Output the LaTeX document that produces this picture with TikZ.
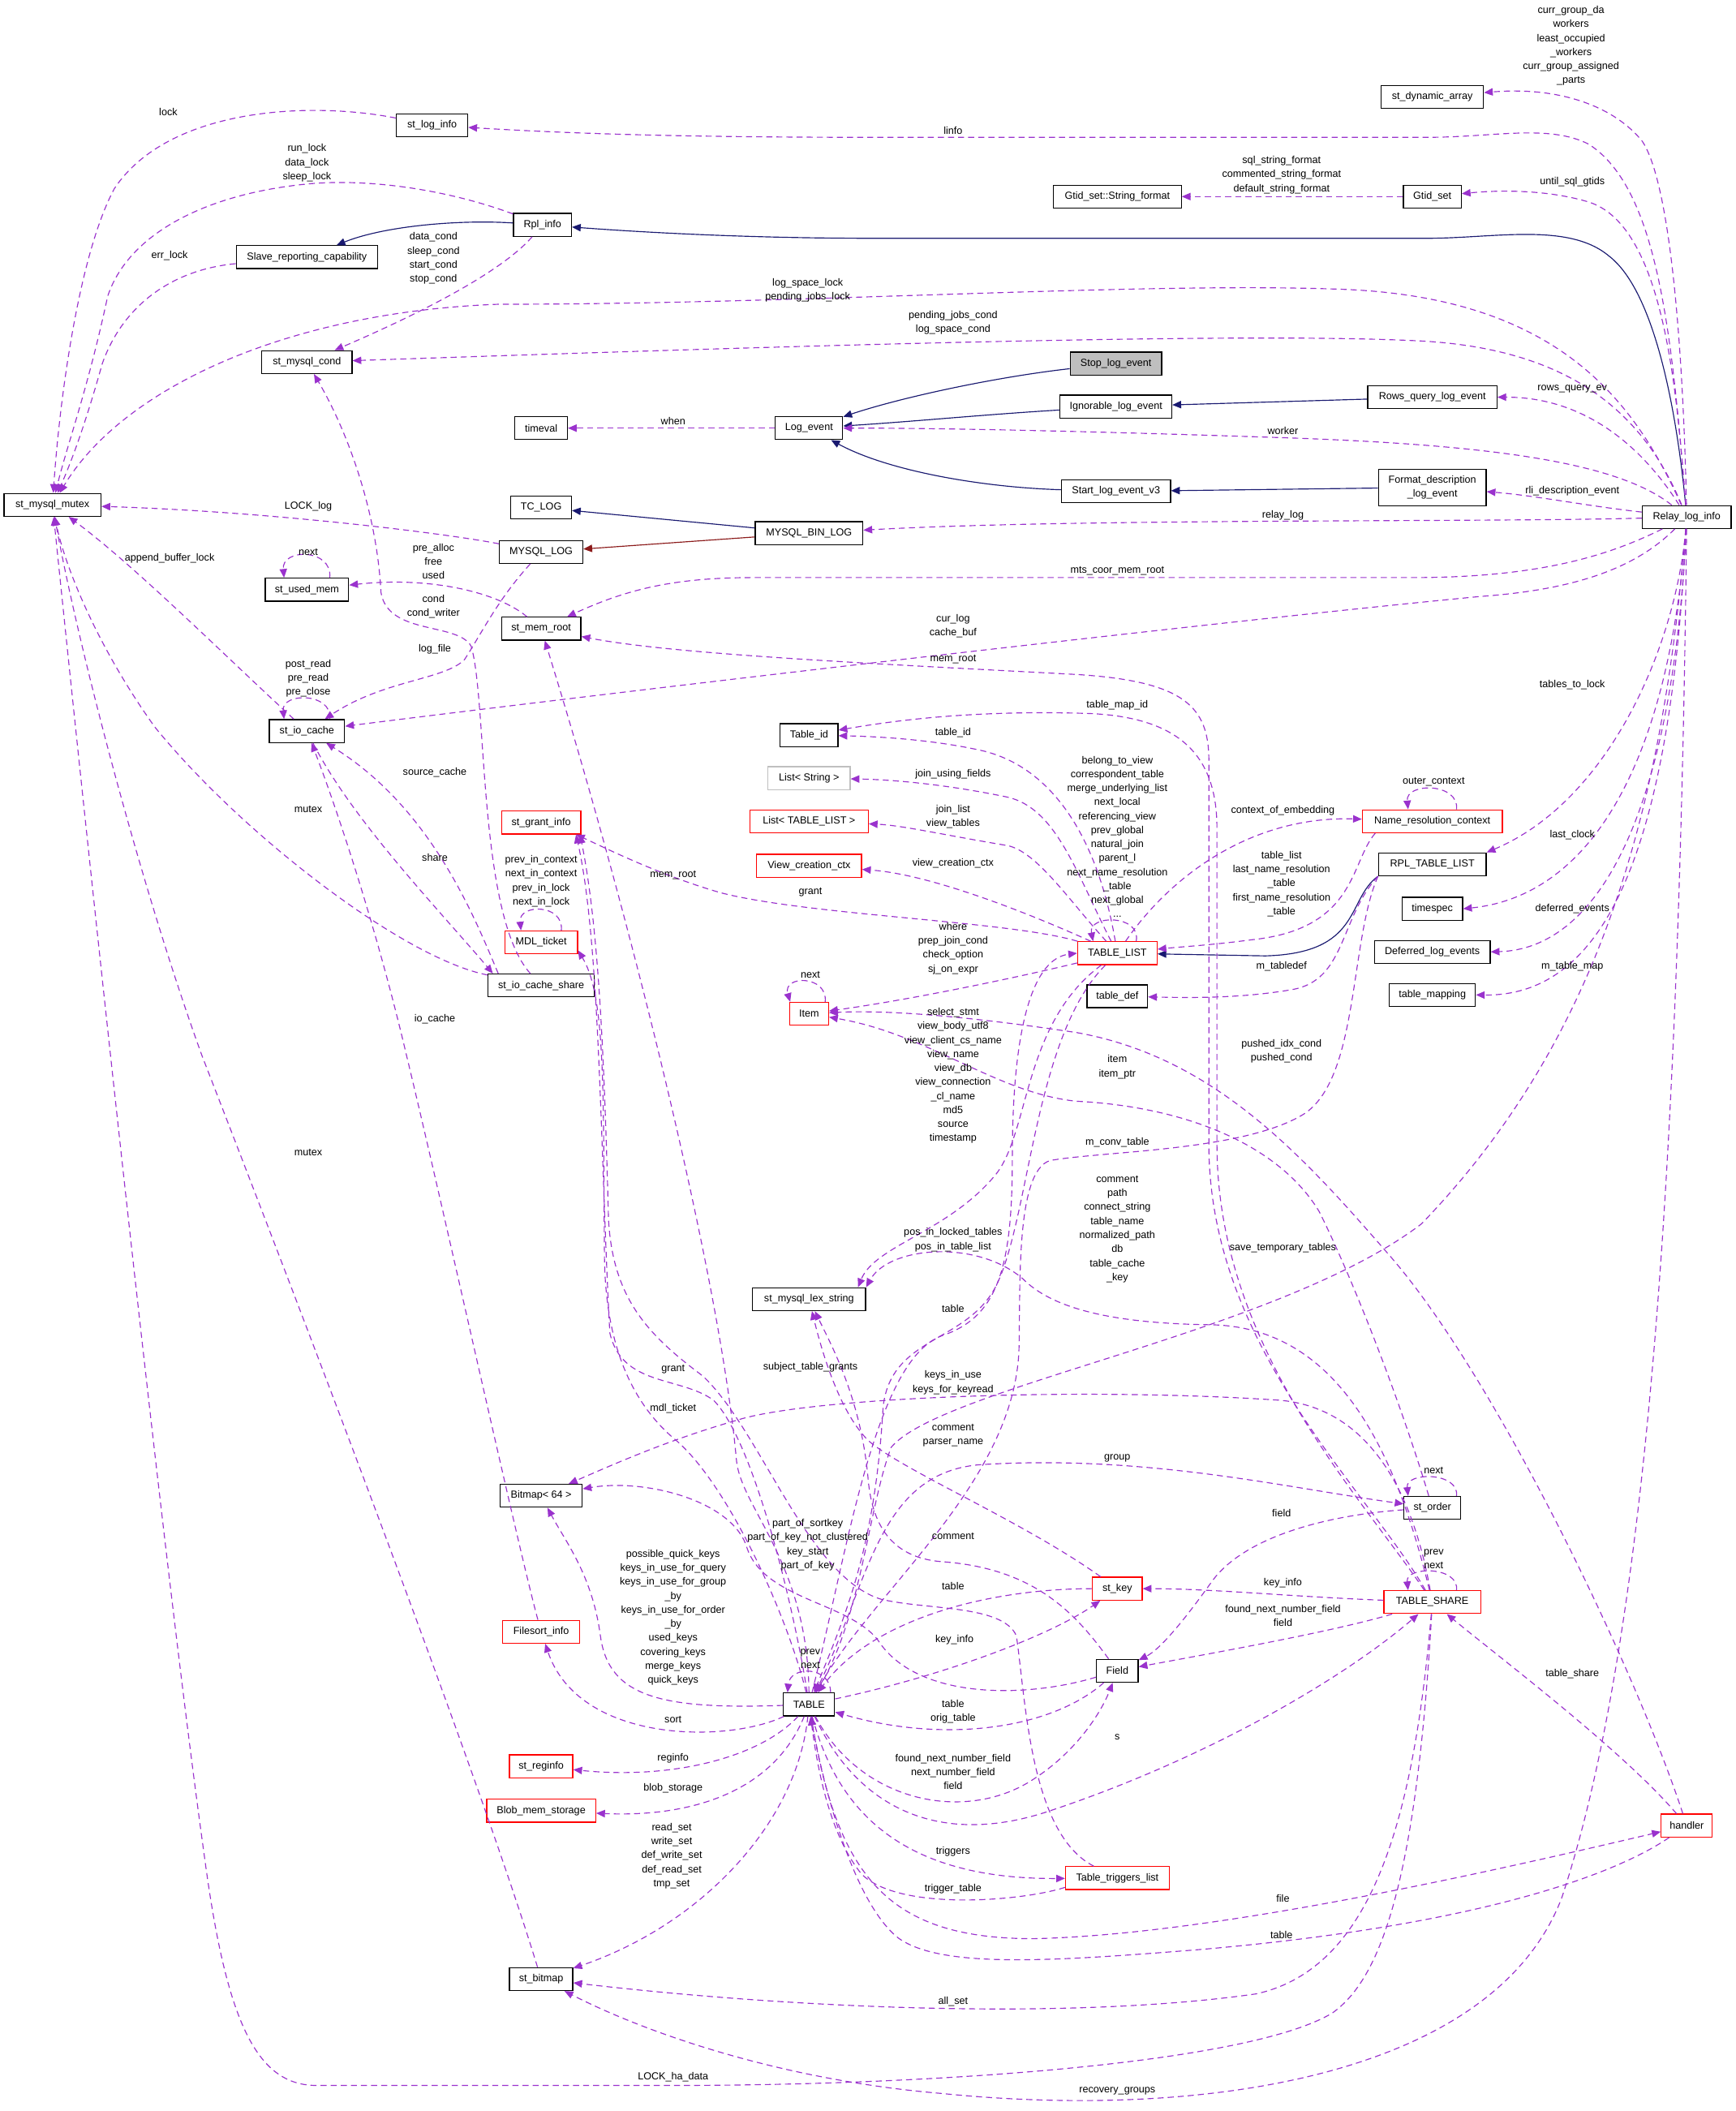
\documentclass[tikz,border=0pt]{standalone}
\usepackage{fontspec}
\setmainfont{Liberation Sans}
\usetikzlibrary{arrows.meta}
\definecolor{depPurple}{RGB}{154,50,205}
\definecolor{inhBlue}{RGB}{25,25,112}
\definecolor{privRed}{RGB}{139,26,26}
\definecolor{grey75}{RGB}{191,191,191}

\tikzset{
  cls/.style={draw=black, line width=0.75pt, fill=white, font=\fontsize{7.6}{10.4}\selectfont,
    minimum height=17pt, inner xsep=2pt, inner ysep=1pt, align=center},
  clsred/.style={cls, draw=red},
  clsgrey/.style={cls, draw=grey75},
  dep/.style={depPurple, line width=0.7pt, dash pattern=on 4.5pt off 3pt,
    -{Triangle[length=6.5pt,width=5.5pt]}},
  inh/.style={inhBlue, line width=0.7pt, -{Triangle[length=6.5pt,width=5.5pt]}},
  priv/.style={privRed, line width=0.7pt, -{Triangle[length=6.5pt,width=5.5pt]}},
  lbl/.style={font=\fontsize{7.6}{10.4}\selectfont, align=center, inner sep=0pt}
}

\begin{document}
\begin{tikzpicture}[x=1pt, y=-1pt]
  \useasboundingbox (0,0) rectangle (1289,1568);

  % classes
  \node[cls, minimum width=72pt] (mutex) at (39,375) {st\_mysql\_mutex};
  \node[cls, minimum width=53pt] (loginfo) at (321,93) {st\_log\_info};
  \node[cls, minimum width=43pt] (rpl) at (403,167) {Rpl\_info};
  \node[cls, minimum width=105pt] (slave) at (228,191) {Slave\_reporting\_capability};
  \node[cls, minimum width=67pt] (cond) at (228,269) {st\_mysql\_cond};
  \node[cls, minimum width=39pt] (timeval) at (402,318) {timeval};
  \node[cls, minimum width=50pt] (logev) at (601,318) {Log\_event};
  \node[cls, minimum width=45pt] (tclog) at (402,377) {TC\_LOG};
  \node[cls, minimum width=80pt] (binlog) at (601,396) {MYSQL\_BIN\_LOG};
  \node[cls, minimum width=62pt] (mlog) at (402,410) {MYSQL\_LOG};
  \node[cls, minimum width=62pt] (usedmem) at (228,438) {st\_used\_mem};
  \node[cls, minimum width=59pt] (memroot) at (402,467) {st\_mem\_root};
  \node[cls, minimum width=56pt] (iocache) at (228,543) {st\_io\_cache};
  \node[cls, minimum width=43pt] (tableid) at (601,546) {Table\_id};
  \node[clsgrey, minimum width=61pt] (liststr) at (601,578) {List< String >};
  \node[clsred, minimum width=59pt] (grantinfo) at (402,611) {st\_grant\_info};
  \node[clsred, minimum width=88pt] (listtl) at (601,610) {List< TABLE\_LIST >};
  \node[clsred, minimum width=78pt] (viewctx) at (601,643) {View\_creation\_ctx};
  \node[clsred, minimum width=54pt] (mdl) at (402,700) {MDL\_ticket};
  \node[cls, minimum width=79pt] (iocs) at (402,732) {st\_io\_cache\_share};
  \node[clsred, minimum width=29pt] (item) at (601,753) {Item};
  \node[clsred, minimum width=59pt] (tl) at (830,708) {TABLE\_LIST};
  \node[clsred, minimum width=104pt] (nrc) at (1064,610) {Name\_resolution\_context};
  \node[cls, minimum width=80pt] (rtl) at (1064,642) {RPL\_TABLE\_LIST};
  \node[cls, minimum width=45pt] (timespec) at (1064,675) {timespec};
  \node[cls, minimum width=86pt] (defer) at (1064,707) {Deferred\_log\_events};
  \node[cls, minimum width=45pt] (tabledef) at (830,740) {table\_def};
  \node[cls, minimum width=64pt] (tmap) at (1064,739) {table\_mapping};
  \node[cls, minimum width=84pt] (lexstr) at (601,965) {st\_mysql\_lex\_string};
  \node[cls, minimum width=61pt] (bitmap) at (402,1111) {Bitmap< 64 >};
  \node[cls, minimum width=42pt] (order) at (1064,1120) {st\_order};
  \node[clsred, minimum width=37pt] (stkey) at (830,1180) {st\_key};
  \node[clsred, minimum width=72pt] (share) at (1064,1190) {TABLE\_SHARE};
  \node[clsred, minimum width=57pt] (filesort) at (402,1212) {Filesort\_info};
  \node[cls, minimum width=31pt] (field) at (830,1241) {Field};
  \node[cls, minimum width=38pt] (table) at (601,1266) {TABLE};
  \node[clsred, minimum width=47pt] (reginfo) at (402,1312) {st\_reginfo};
  \node[clsred, minimum width=81pt] (blob) at (402,1345) {Blob\_mem\_storage};
  \node[clsred, minimum width=38pt] (handler) at (1253,1356) {handler};
  \node[clsred, minimum width=77pt] (trig) at (830,1395) {Table\_triggers\_list};
  \node[cls, minimum width=47pt] (stbitmap) at (402,1470) {st\_bitmap};
  \node[cls, minimum width=76pt] (dynarr) at (1064,72) {st\_dynamic\_array};
  \node[cls, minimum width=95pt] (strfmt) at (830,146) {Gtid\_set::String\_format};
  \node[cls, minimum width=43pt] (gtid) at (1064,146) {Gtid\_set};
  \node[cls, fill=grey75, minimum width=68pt] (stop) at (829,270) {Stop\_log\_event};
  \node[cls, minimum width=83pt] (ignor) at (829,302) {Ignorable\_log\_event};
  \node[cls, minimum width=96pt] (rowsq) at (1064,295) {Rows\_query\_log\_event};
  \node[cls, minimum width=81pt] (startv3) at (829,365) {Start\_log\_event\_v3};
  \node[cls, minimum width=80pt, minimum height=27pt] (fmtdesc) at (1064,362) {Format\_description\\\_log\_event};
  \node[cls, minimum width=66pt] (relay) at (1253,384) {Relay\_log\_info};

  % inheritance
  \draw[inh] (relay) .. controls (1245,300) and (1228,215) .. (1195,190) .. controls (1165,165) and (1110,177) .. (1060,177) -- (650,177) .. controls (550,177) and (470,172) .. (rpl);
  \draw[inh] (rpl) .. controls (340,163) and (285,168) .. (slave);
  \draw[inh] (stop) .. controls (740,280) and (670,295) .. (logev);
  \draw[inh] (ignor) .. controls (730,308) and (680,313) .. (logev);
  \draw[inh] (startv3) .. controls (730,362) and (660,350) .. (logev);
  \draw[inh] (rowsq) -- (ignor);
  \draw[inh] (fmtdesc) -- (startv3);
  \draw[inh] (binlog) -- (tclog);
  \draw[priv] (binlog) -- (mlog);
  \draw[inh] (rtl.south west) .. controls (1000,668) and (1012,708) .. (940,710) -- (tl);

  % Relay_log_info members
  \draw[dep] (relay) .. controls (1250,250) and (1240,135) .. (1220,105) .. controls (1200,80) and (1160,64) .. (dynarr);
  \draw[dep] (relay) .. controls (1242,250) and (1232,140) .. (1180,107) .. controls (1150,92) and (1110,102) .. (1060,102) -- (650,102) .. controls (500,102) and (420,99) .. (loginfo);
  \draw[dep] (relay) .. controls (1246,300) and (1238,168) .. (1180,150) .. controls (1150,141) and (1115,141) .. (gtid);
  \draw[dep] (relay) .. controls (1215,300) and (1160,222) .. (1000,215) .. controls (850,209) and (600,226) .. (370,226) .. controls (210,232) and (90,290) .. (mutex);
  \draw[dep] (relay) .. controls (1222,310) and (1170,258) .. (1050,253) .. controls (900,246) and (500,260) .. (cond);
  \draw[dep] (relay) .. controls (1222,335) and (1180,295) .. (rowsq);
  \draw[dep] (relay) .. controls (1200,342) and (1100,330) .. (950,325) .. controls (800,320) and (700,318) .. (logev);
  \draw[dep] (relay) .. controls (1180,376) and (1140,368) .. (fmtdesc);
  \draw[dep] (relay) .. controls (1100,388) and (800,385) .. (binlog);
  \draw[dep] (relay) .. controls (1200,410) and (1150,429) .. (1050,429) -- (560,429) .. controls (500,429) and (465,438) .. (memroot);
  \draw[dep] (relay) .. controls (1215,422) and (1170,438) .. (1100,443) .. controls (900,462) and (450,515) .. (iocache);
  \draw[dep] (relay) .. controls (1245,480) and (1195,595) .. (rtl.north east);
  \draw[dep] (relay) .. controls (1240,560) and (1185,665) .. (timespec.east);
  \draw[dep] (relay) .. controls (1242,610) and (1185,705) .. (defer.east);
  \draw[dep] (relay) .. controls (1240,650) and (1185,740) .. (tmap.east);
  \draw[dep] (relay) .. controls (1235,600) and (1190,770) .. (1056,909) .. controls (950,990) and (700,1030) .. (662,1075) .. controls (645,1120) and (640,1200) .. (table);
  \draw[dep] (relay) .. controls (1248,800) and (1230,1200) .. (1160,1410) .. controls (1110,1540) and (900,1575) .. (700,1555) .. controls (580,1545) and (480,1510) .. (stbitmap);
  \draw[dep] (gtid) -- (strfmt);
  \draw[dep] (logev) -- (timeval);

  % locks and conditions
  \draw[dep] (loginfo) .. controls (230,75) and (125,80) .. (85,140) .. controls (58,190) and (44,300) .. (mutex);
  \draw[dep] (rpl) .. controls (330,140) and (270,132) .. (225,137) .. controls (150,145) and (95,175) .. (80,220) .. controls (65,290) and (50,330) .. (mutex);
  \draw[dep] (slave) .. controls (130,200) and (92,225) .. (76,270) .. controls (62,320) and (52,345) .. (mutex);
  \draw[dep] (rpl) .. controls (370,205) and (300,238) .. (cond);
  \draw[dep] (mlog) .. controls (330,396) and (200,380) .. (mutex);
  \draw[dep] (mlog) .. controls (370,445) and (358,470) .. (345,490) .. controls (330,505) and (285,505) .. (iocache);
  \draw[dep] (iocs) .. controls (355,680) and (362,520) .. (350,480) .. controls (340,462) and (288,472) .. (283,440) .. controls (280,380) and (258,320) .. (cond);
  \draw[dep] (memroot) .. controls (370,440) and (320,428) .. (usedmem);
  \draw[dep] ([xshift=17pt]usedmem.north) .. controls +(2,-22) and +(-2,-22) .. ([xshift=-17pt]usedmem.north);
  \draw[dep] ([xshift=17pt]iocache.north) .. controls +(2,-20) and +(-2,-20) .. ([xshift=-17pt]iocache.north);
  \draw[dep] (iocache) .. controls (170,490) and (100,420) .. (mutex);
  \draw[dep] (iocs) .. controls (300,712) and (180,620) .. (115,540) .. controls (72,480) and (48,420) .. (mutex);
  \draw[dep] ([xshift=8pt]iocs.north west) .. controls (352,680) and (320,600) .. (iocache);
  \draw[dep] (iocache) .. controls (262,610) and (330,680) .. ([xshift=4pt]iocs.north west);
  \draw[dep] (share) .. controls (1052,1400) and (1025,1470) .. (990,1495) .. controls (930,1532) and (700,1549) .. (500,1549) -- (235,1549) .. controls (190,1549) and (168,1500) .. (152,1380) .. controls (120,1150) and (62,600) .. (mutex);
  \draw[dep] (stbitmap) .. controls (350,1300) and (195,900) .. (150,784) .. controls (105,660) and (58,480) .. (mutex);
  \draw[dep] (filesort) .. controls (385,1150) and (330,900) .. (302,784) .. controls (280,690) and (250,600) .. (iocache);

  % TABLE_LIST members
  \draw[dep] (tl) .. controls (815,620) and (780,568) .. (727,557) .. controls (690,549) and (650,547) .. (tableid);
  \draw[dep] (tl) .. controls (800,650) and (785,600) .. (748,592) .. controls (700,582) and (660,579) .. (liststr);
  \draw[dep] (tl) .. controls (795,670) and (770,632) .. (748,628) .. controls (700,620) and (670,613) .. (listtl);
  \draw[dep] (tl) .. controls (790,690) and (700,650) .. (viewctx);
  \draw[dep] (tl) .. controls (750,684) and (600,680) .. (535,663) .. controls (490,650) and (450,630) .. ([xshift=-4pt]grantinfo.south east);
  \draw[dep] ([xshift=14pt]tl.north) .. controls +(4,-20) and +(-4,-20) .. ([xshift=-18pt]tl.north);
  \draw[dep] (tl) .. controls (870,650) and (930,606) .. (nrc);
  \draw[dep] ([xshift=18pt]nrc.north) .. controls +(2,-20) and +(-2,-20) .. ([xshift=-18pt]nrc.north);
  \draw[dep] ([xshift=10pt]nrc.south west) .. controls (1003,640) and (1008,690) .. (930,698) .. controls (900,702) and (880,703) .. (tl);
  \draw[dep] (rtl.south west) .. controls (995,682) and (1000,728) .. (960,735) .. controls (920,742) and (880,741) .. (tabledef);
  \draw[dep] (rtl.south west) .. controls (1002,700) and (1010,805) .. (966,829) .. controls (920,855) and (820,855) .. (780,862) .. controls (755,870) and (758,950) .. (757,1000) .. controls (755,1100) and (650,1180) .. (table);
  \draw[dep] (tl) .. controls (760,725) and (680,742) .. (item);
  \draw[dep] (tl) .. controls (760,760) and (765,840) .. (740,872) .. controls (705,915) and (650,925) .. ([xshift=-6pt]lexstr.north east);
  \draw[dep] (table) .. controls (630,1150) and (650,1010) .. (700,992) .. controls (742,978) and (752,940) .. (752,860) .. controls (752,760) and (768,712) .. (tl.west);
  \draw[dep] (tl) .. controls (768,770) and (765,905) .. (740,955) .. controls (718,998) and (662,992) .. (656,1045) .. controls (650,1150) and (628,1200) .. (table);

  % Item users
  \draw[dep] ([xshift=12pt]item.north) .. controls +(2,-20) and +(-6,-20) .. ([xshift=-14pt]item.north);
  \draw[dep] (order) .. controls (1040,1040) and (1005,950) .. (980,900) .. controls (950,850) and (880,822) .. (800,818) .. controls (740,812) and (690,768) .. (item);
  \draw[dep] (handler) .. controls (1215,1240) and (1110,1020) .. (1030,930) .. controls (965,855) and (900,785) .. (800,767) .. controls (720,755) and (660,750) .. (item);

  % TABLE_SHARE members
  \draw[dep] (share) .. controls (1015,1105) and (898,1000) .. (898,850) -- (898,565) .. controls (898,525) and (880,506) .. (800,501) .. controls (650,493) and (500,486) .. (memroot);
  \draw[dep] (share) .. controls (1010,1110) and (904,1000) .. (904,850) -- (904,615) .. controls (904,560) and (875,533) .. (810,530) .. controls (720,527) and (660,536) .. (tableid);
  \draw[dep] (share) .. controls (1048,1100) and (1012,1045) .. (950,1040) .. controls (800,1030) and (600,1038) .. (547,1055) .. controls (495,1070) and (455,1088) .. (bitmap);
  \draw[dep] (share) .. controls (1035,1070) and (990,986) .. (900,984) .. controls (820,983) and (780,970) .. (760,950) .. controls (725,920) and (660,926) .. (lexstr.north east);
  \draw[dep] ([xshift=18pt]share.north) .. controls +(2,-18) and +(-2,-18) .. ([xshift=-18pt]share.north);
  \draw[dep] (share) .. controls (960,1186) and (900,1180) .. (stkey);
  \draw[dep] (share) .. controls (990,1212) and (900,1228) .. (field);
  \draw[dep] (share) .. controls (1050,1350) and (1020,1462) .. (933,1481) .. controls (800,1500) and (600,1493) .. (stbitmap);

  % handler
  \draw[dep] (handler) .. controls (1205,1300) and (1115,1232) .. (share);
  \draw[dep] (handler) .. controls (1200,1392) and (1100,1430) .. (892,1448) .. controls (780,1457) and (700,1462) .. (668,1440) .. controls (635,1415) and (612,1330) .. (table);
  \draw[dep] (table) .. controls (622,1395) and (660,1440) .. (768,1440) .. controls (900,1437) and (1100,1392) .. (handler);

  % TABLE members
  \draw[dep] (table) .. controls (600,1160) and (550,1120) .. (547,1084) .. controls (535,950) and (468,680) .. (memroot);
  \draw[dep] (table) .. controls (590,1195) and (560,1070) .. (530,1040) .. controls (505,1022) and (462,1030) .. (453,990) .. controls (446,860) and (446,700) .. ([xshift=-4pt]grantinfo.south east);
  \draw[dep] (table) .. controls (585,1200) and (540,1100) .. (500,1068) .. controls (462,1035) and (449,985) .. (449,930) .. controls (448,810) and (450,740) .. ([yshift=3pt]mdl.south east);
  \draw[dep] ([xshift=15pt]mdl.north) .. controls +(2,-20) and +(-2,-20) .. ([xshift=-15pt]mdl.north);
  \draw[dep] (trig) .. controls (765,1362) and (762,1262) .. (755,1215) .. controls (745,1192) and (690,1196) .. (655,1188) .. controls (600,1172) and (565,1062) .. (522,1022) .. controls (482,992) and (455,965) .. (452,905) .. controls (449,790) and (445,690) .. ([xshift=-1pt]grantinfo.south east);
  \draw[dep] (table) .. controls (540,1295) and (430,1295) .. (filesort);
  \draw[dep] (table) .. controls (490,1270) and (452,1260) .. (446,1215) .. controls (440,1170) and (420,1145) .. (bitmap);
  \draw[dep] (table) .. controls (565,1305) and (500,1322) .. (reginfo);
  \draw[dep] (table) .. controls (575,1330) and (515,1350) .. (blob);
  \draw[dep] (table) .. controls (592,1355) and (520,1430) .. (stbitmap);
  \draw[dep] ([xshift=16pt]table.north) .. controls +(0,-20) and +(2,-20) .. ([xshift=-16pt]table.north);
  \draw[dep] (table) .. controls (645,1180) and (650,1095) .. (727,1088) .. controls (850,1080) and (955,1105) .. (order);
  \draw[dep] ([xshift=18pt]order.north) .. controls +(2,-18) and +(-2,-18) .. ([xshift=-18pt]order.north);
  \draw[dep] (order) .. controls (990,1125) and (925,1140) .. (900,1175) .. controls (880,1203) and (862,1225) .. (field);
  \draw[dep] (table) .. controls (700,1245) and (780,1215) .. (stkey);
  \draw[dep] (stkey) .. controls (740,1180) and (650,1200) .. (table);
  \draw[dep] (stkey) .. controls (760,1130) and (670,1092) .. (645,1070) .. controls (625,1050) and (612,1010) .. (lexstr);
  \draw[dep] (field) .. controls (800,1200) and (770,1165) .. (700,1160) .. controls (660,1157) and (648,1130) .. (645,1100) .. controls (640,1040) and (618,1000) .. (lexstr);
  \draw[dep] (field) .. controls (760,1262) and (680,1262) .. (652,1218) .. controls (630,1190) and (568,1188) .. (555,1150) .. controls (545,1115) and (480,1098) .. (bitmap);
  \draw[dep] (field) .. controls (780,1285) and (700,1295) .. (table);
  \draw[dep] (table) .. controls (640,1340) and (720,1355) .. (770,1320) .. controls (800,1300) and (818,1272) .. (field);
  \draw[dep] (table) .. controls (638,1345) and (700,1372) .. (780,1345) .. controls (900,1305) and (1000,1245) .. (share);
  \draw[dep] (table) .. controls (622,1345) and (670,1396) .. (trig);
  \draw[dep] ([yshift=2pt]trig.south west) .. controls (760,1412) and (668,1420) .. (640,1392) .. controls (618,1365) and (608,1320) .. (table);

  % labels
  \node[lbl] (l01) at (1167,34) {curr\_group\_da\\workers\\least\_occupied\\\_workers\\curr\_group\_assigned\\\_parts};
  \node[lbl] (l02) at (708,97) {linfo};
  \node[lbl] (l03) at (952,130) {sql\_string\_format\\commented\_string\_format\\default\_string\_format};
  \node[lbl] (l04) at (1168,135) {until\_sql\_gtids};
  \node[lbl] (l05) at (125,83) {lock};
  \node[lbl] (l06) at (228,121) {run\_lock\\data\_lock\\sleep\_lock};
  \node[lbl] (l07) at (126,190) {err\_lock};
  \node[lbl] (l08) at (322,192) {data\_cond\\sleep\_cond\\start\_cond\\stop\_cond};
  \node[lbl] (l09) at (600,215.5) {log\_space\_lock\\pending\_jobs\_lock};
  \node[lbl] (l10) at (708,239.5) {pending\_jobs\_cond\\log\_space\_cond};
  \node[lbl] (l11) at (1168,289) {rows\_query\_ev};
  \node[lbl] (l12) at (500,313) {when};
  \node[lbl] (l13) at (953,320) {worker};
  \node[lbl] (l14) at (1168,365) {rli\_description\_event};
  \node[lbl] (l15) at (229,376) {LOCK\_log};
  \node[lbl] (l16) at (953,383) {relay\_log};
  \node[lbl] (l17) at (126,415) {append\_buffer\_lock};
  \node[lbl] (l18) at (229,410) {next};
  \node[lbl] (l19) at (322,417) {pre\_alloc\\free\\used};
  \node[lbl] (l20) at (830,424) {mts\_coor\_mem\_root};
  \node[lbl] (l21) at (322,450.5) {cond\\cond\_writer};
  \node[lbl] (l22) at (708,465) {cur\_log\\cache\_buf};
  \node[lbl] (l23) at (323,482) {log\_file};
  \node[lbl] (l24) at (708,490) {mem\_root};
  \node[lbl] (l25) at (229,504) {post\_read\\pre\_read\\pre\_close};
  \node[lbl] (l26) at (1168,509) {tables\_to\_lock};
  \node[lbl] (l27) at (830,524) {table\_map\_id};
  \node[lbl] (l28) at (708,544) {table\_id};
  \node[lbl] (l29) at (323,574) {source\_cache};
  \node[lbl] (l30) at (708,575) {join\_using\_fields};
  \node[lbl] (l31) at (1065,581) {outer\_context};
  \node[lbl] (l32) at (830,621.5) {belong\_to\_view\\correspondent\_table\\merge\_underlying\_list\\next\_local\\referencing\_view\\prev\_global\\natural\_join\\parent\_l\\next\_name\_resolution\\\_table\\next\_global\\...};
  \node[lbl] (l33) at (229,601) {mutex};
  \node[lbl] (l34) at (708,606.5) {join\_list\\view\_tables};
  \node[lbl] (l35) at (953,602) {context\_of\_embedding};
  \node[lbl] (l36) at (1168,620) {last\_clock};
  \node[lbl] (l37) at (323,637) {share};
  \node[lbl] (l38) at (708,641) {view\_creation\_ctx};
  \node[lbl] (l39) at (402,654.5) {prev\_in\_context\\next\_in\_context\\prev\_in\_lock\\next\_in\_lock};
  \node[lbl] (l40) at (500,650) {mem\_root};
  \node[lbl] (l41) at (602,663) {grant};
  \node[lbl] (l42) at (952,656.5) {table\_list\\last\_name\_resolution\\\_table\\first\_name\_resolution\\\_table};
  \node[lbl] (l43) at (1168,675) {deferred\_events};
  \node[lbl] (l44) at (708,704.5) {where\\prep\_join\_cond\\check\_option\\sj\_on\_expr};
  \node[lbl] (l45) at (952,718) {m\_tabledef};
  \node[lbl] (l46) at (1168,718) {m\_table\_map};
  \node[lbl] (l47) at (602,724) {next};
  \node[lbl] (l48) at (323,757) {io\_cache};
  \node[lbl] (l49) at (708,799) {select\_stmt\\view\_body\_utf8\\view\_client\_cs\_name\\view\_name\\view\_db\\view\_connection\\\_cl\_name\\md5\\source\\timestamp};
  \node[lbl] (l50) at (830,792.5) {item\\item\_ptr};
  \node[lbl] (l51) at (952,781) {pushed\_idx\_cond\\pushed\_cond};
  \node[lbl] (l52) at (830,848.5) {m\_conv\_table};
  \node[lbl] (l53) at (229,856) {mutex};
  \node[lbl] (l54) at (830,913) {comment\\path\\connect\_string\\table\_name\\normalized\_path\\db\\table\_cache\\\_key};
  \node[lbl] (l55) at (708,921) {pos\_in\_locked\_tables\\pos\_in\_table\_list};
  \node[lbl] (l56) at (953,927) {save\_temporary\_tables};
  \node[lbl] (l57) at (708,972) {table};
  \node[lbl] (l58) at (602,1015.5) {subject\_table\_grants};
  \node[lbl] (l59) at (500,1017) {grant};
  \node[lbl] (l60) at (708,1027) {keys\_in\_use\\keys\_for\_keyread};
  \node[lbl] (l61) at (500,1046) {mdl\_ticket};
  \node[lbl] (l62) at (708,1066) {comment\\parser\_name};
  \node[lbl] (l63) at (830,1083) {group};
  \node[lbl] (l64) at (1065,1092) {next};
  \node[lbl] (l65) at (952,1124) {field};
  \node[lbl] (l66) at (600,1147.5) {part\_of\_sortkey\\part\_of\_key\_not\_clustered\\key\_start\\part\_of\_key};
  \node[lbl] (l67) at (708,1141) {comment};
  \node[lbl] (l68) at (1065,1158) {prev\\next};
  \node[lbl] (l69) at (500,1201.5) {possible\_quick\_keys\\keys\_in\_use\_for\_query\\keys\_in\_use\_for\_group\\\_by\\keys\_in\_use\_for\_order\\\_by\\used\_keys\\covering\_keys\\merge\_keys\\quick\_keys};
  \node[lbl] (l70) at (708,1178) {table};
  \node[lbl] (l71) at (953,1176) {key\_info};
  \node[lbl] (l72) at (953,1200) {found\_next\_number\_field\\field};
  \node[lbl] (l73) at (709,1218) {key\_info};
  \node[lbl] (l74) at (602,1232) {prev\\next};
  \node[lbl] (l75) at (1168,1243) {table\_share};
  \node[lbl] (l76) at (708,1271.5) {table\\orig\_table};
  \node[lbl] (l77) at (500,1277) {sort};
  \node[lbl] (l78) at (830,1290) {s};
  \node[lbl] (l79) at (500,1306) {reginfo};
  \node[lbl] (l80) at (708,1316) {found\_next\_number\_field\\next\_number\_field\\field};
  \node[lbl] (l81) at (500,1328) {blob\_storage};
  \node[lbl] (l82) at (499,1378.5) {read\_set\\write\_set\\def\_write\_set\\def\_read\_set\\tmp\_set};
  \node[lbl] (l83) at (708,1375) {triggers};
  \node[lbl] (l84) at (708,1403) {trigger\_table};
  \node[lbl] (l85) at (953,1410) {file};
  \node[lbl] (l86) at (952,1437) {table};
  \node[lbl] (l87) at (708,1487) {all\_set};
  \node[lbl] (l88) at (500,1543) {LOCK\_ha\_data};
  \node[lbl] (l89) at (830,1553) {recovery\_groups};
\end{tikzpicture}
\end{document}
